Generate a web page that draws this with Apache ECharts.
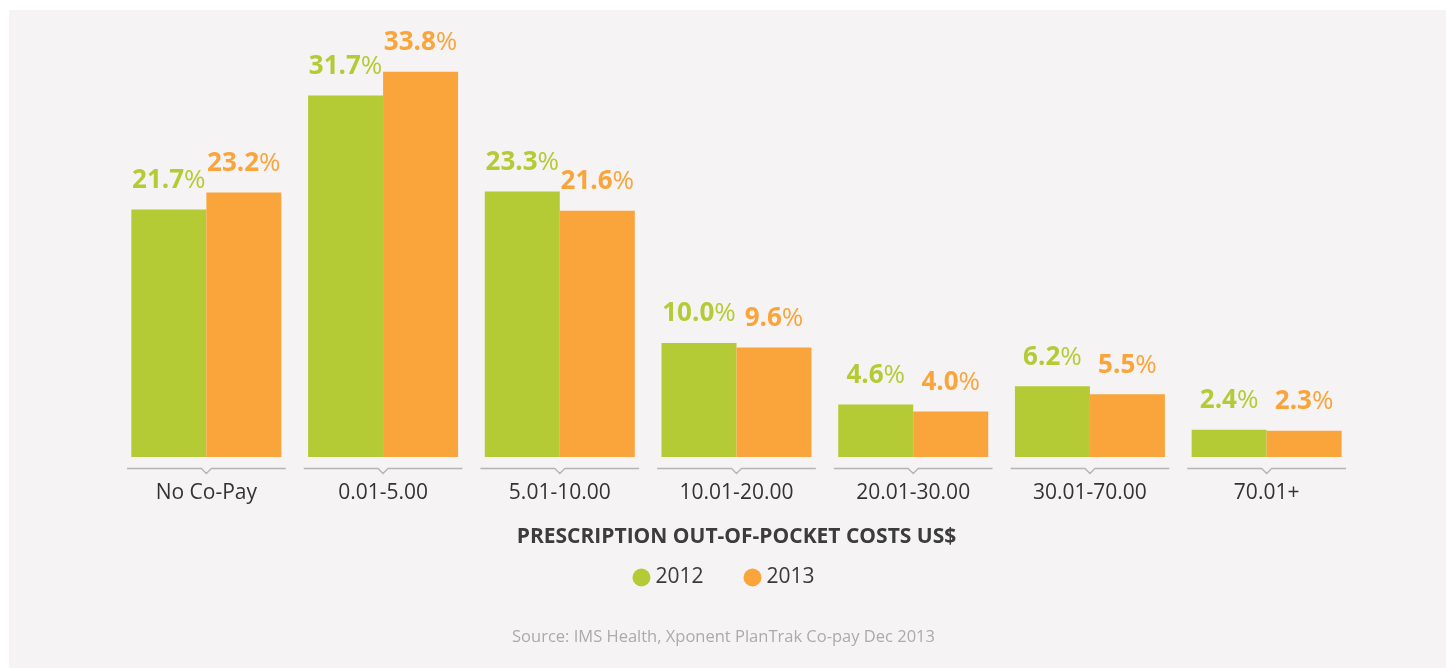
<!DOCTYPE html>
<html>
<head>
<meta charset="utf-8">
<style>
  html, body { margin: 0; padding: 0; background: #ffffff; }
  #chart { width: 1447px; height: 668px; }
</style>
<script src="https://cdn.jsdelivr.net/npm/echarts@6/dist/echarts.min.js"></script>
</head>
<body>
<div id="chart"></div>
<script>
// Share of prescriptions by out-of-pocket cost band
const categories = ['No Co-Pay', '0.01-5.00', '5.01-10.00', '10.01-20.00', '20.01-30.00', '30.01-70.00', '70.01+'];
const values2012 = [21.7, 31.7, 23.3, 10.0, 4.6, 6.2, 2.4];
const values2013 = [23.2, 33.8, 21.6, 9.6, 4.0, 5.5, 2.3];
const seriesNames = ['2012', '2013'];
const axisTitle = 'PRESCRIPTION OUT-OF-POCKET COSTS US$';
const sourceNote = 'Source: IMS Health, Xponent PlanTrak Co-pay Dec 2013';

const GREEN = '#b5cb35';
const ORANGE = '#f9a53b';
const FONT = '"Open Sans", "Noto Sans", sans-serif';

function valueLabel(color) {
  return {
    show: true,
    position: 'top',
    distance: 16,
    formatter: p => '{v|' + p.value.toFixed(1) + '}{p|%}',
    rich: {
      v: { fontFamily: FONT, fontWeight: 'bold', fontSize: 26, color: color, letterSpacing: -1.5 },
      p: { fontFamily: FONT, fontWeight: 'normal', fontSize: 26, color: color }
    }
  };
}

const chart = echarts.init(document.getElementById('chart'), null, { renderer: 'canvas' });

chart.setOption({
  backgroundColor: '#ffffff',
  animation: false,
  graphic: [
    {
      type: 'rect', z: -10, silent: true,
      shape: { x: 9, y: 10, width: 1437, height: 660 },
      style: { fill: '#f5f3f4' }
    },
    {
      type: 'text', left: 'center', top: 629, silent: true,
      style: { text: sourceNote, fontFamily: FONT, fontSize: 16.5, fill: '#ababab' }
    }
  ],
  legend: {
    data: seriesNames,
    top: 562,
    left: 'center',
    icon: 'circle',
    itemWidth: 18,
    itemHeight: 18,
    itemGap: 40,
    textStyle: { fontFamily: FONT, fontSize: 21, color: '#3a3a3a' }
  },
  grid: { left: 118, right: 92, top: 58, bottom: 211 },
  xAxis: {
    type: 'category',
    data: categories,
    axisLine: { show: false },
    axisTick: { show: false },
    axisLabel: { margin: 26, fontFamily: FONT, fontSize: 21, color: '#333333' },
    name: axisTitle,
    nameLocation: 'middle',
    nameGap: 70,
    nameTextStyle: { fontFamily: FONT, fontWeight: 'bold', fontSize: 21, color: '#3c3c3c' }
  },
  yAxis: {
    type: 'value',
    min: 0,
    max: 35,
    show: false,
    splitLine: { show: false }
  },
  series: [
    {
      name: seriesNames[0],
      type: 'bar',
      data: values2012,
      barWidth: 75,
      barGap: '0%',
      itemStyle: { color: GREEN },
      label: valueLabel(GREEN)
    },
    {
      name: seriesNames[1],
      type: 'bar',
      data: values2013,
      barWidth: 75,
      barGap: '0%',
      itemStyle: { color: ORANGE },
      label: valueLabel(ORANGE)
    },
    {
      // per-category baseline segment with a small notch under each group
      type: 'custom',
      silent: true,
      data: categories.map((c, i) => [i, 0]),
      renderItem: function (params, api) {
        const base = api.coord([api.value(0), 0]);
        const band = api.size([1, 0])[0];
        const half = band * 0.449;
        const cx = base[0];
        const y = base[1] + 11.5;
        return {
          type: 'polyline',
          shape: {
            points: [
              [cx - half, y], [cx - 5, y], [cx, y + 5], [cx + 5, y], [cx + half, y]
            ]
          },
          style: { stroke: '#b5b5b5', lineWidth: 1.3, fill: null }
        };
      },
      z: 1
    }
  ]
});
</script>
</body>
</html>
